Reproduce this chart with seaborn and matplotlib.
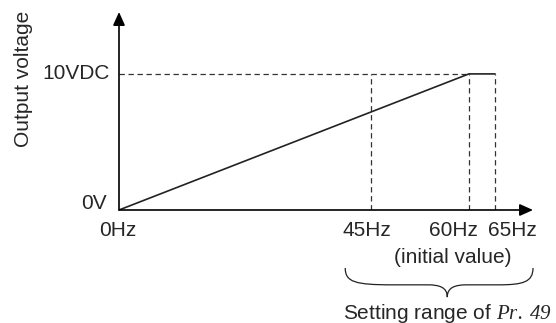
import matplotlib
matplotlib.use("Agg")
import matplotlib.pyplot as plt
from matplotlib.path import Path
from matplotlib.patches import PathPatch
import seaborn as sns
import pandas as pd

# --- data (schematic V/f characteristic) ---
freq_labels = ["0Hz", "45Hz", "60Hz", "65Hz"]
freq_pos = [0, 43.2, 60, 64.5]          # schematic positions on the frequency axis
volt_labels = ["0V", "10VDC"]
volt_vals = [0, 10]
curve_freq = [0, 60, 64.5]
curve_volt = [0, 10, 10]

sns.set_theme(style="white")
plt.rcParams["font.family"] = ["Liberation Sans", "DejaVu Sans"]
plt.rcParams["mathtext.fontset"] = "custom"
plt.rcParams["mathtext.it"] = "Liberation Serif:italic"
plt.rcParams["mathtext.rm"] = "Liberation Serif:italic"

FS = 15
XMAX, YMAX = 71, 14.55

fig = plt.figure(figsize=(5.56, 3.23), dpi=100)
ax = fig.add_axes([119 / 556, 113 / 323, 414 / 556, 198 / 323])
ax.set_xlim(0, XMAX)
ax.set_ylim(0, YMAX)
ax.axis("off")

# guide lines
dash = (0, (4.3, 2.9))
ax.hlines(volt_vals[1], 0, freq_pos[2], colors="#333333", lw=0.9, linestyles=dash)
ax.vlines(freq_pos[1:], 0, volt_vals[1], colors="#333333", lw=0.9, linestyles=dash)

# characteristic
df = pd.DataFrame({"f": curve_freq, "v": curve_volt})
sns.lineplot(data=df, x="f", y="v", ax=ax, color="#222222", lw=1.2, sort=False)
ax.set_xlabel("")
ax.set_ylabel("")

# axes arrows
arrow = dict(arrowstyle="-|>,head_length=0.4,head_width=0.18", mutation_scale=20,
             lw=1.2, color="black", shrinkA=0, shrinkB=0)
ax.annotate("", xy=(0, YMAX), xytext=(0, 0), arrowprops=arrow, annotation_clip=False)
ax.annotate("", xy=(XMAX, 0), xytext=(0, 0), arrowprops=arrow, annotation_clip=False)

# y labels
ax.text(-2.06, 0.5, volt_labels[0], ha="right", va="center", fontsize=FS, clip_on=False)
ax.text(-1.54, volt_vals[1], volt_labels[1], ha="right", va="center", fontsize=FS, clip_on=False)
ax.text(-16.4, 9.6, "Output voltage", rotation=90, ha="center", va="center",
        fontsize=FS, clip_on=False)

# x labels
label_x = [-0.2, 42.5, 57.3, 67.4]
for lx, lab in zip(label_x, freq_labels):
    ax.text(lx, -1.54, lab, ha="center", va="center", fontsize=FS, clip_on=False)
ax.text(57.3, -3.46, "(initial value)", ha="center", va="center", fontsize=FS, clip_on=False)

# brace under the setting range
verts = [(38.8, -4.26), (38.8, -5.3), (40.5, -5.5), (47, -5.5),
         (53, -5.5),
         (55, -5.5), (56.3, -5.7), (56.3, -6.4),
         (56.3, -5.7), (57.6, -5.5), (59.6, -5.5),
         (65, -5.5),
         (69.3, -5.5), (71, -5.3), (71, -4.26)]
codes = [Path.MOVETO, Path.CURVE4, Path.CURVE4, Path.CURVE4,
         Path.LINETO,
         Path.CURVE4, Path.CURVE4, Path.CURVE4,
         Path.CURVE4, Path.CURVE4, Path.CURVE4,
         Path.LINETO,
         Path.CURVE4, Path.CURVE4, Path.CURVE4]
ax.add_patch(PathPatch(Path(verts, codes), fill=False, lw=0.9, color="#222222", clip_on=False))

ax.text(56.3, -7.57, r"Setting range of $\mathrm{Pr.}\;\mathrm{49}$", ha="center", va="center",
        fontsize=FS, clip_on=False)

fig.savefig("out.png", dpi=100)
